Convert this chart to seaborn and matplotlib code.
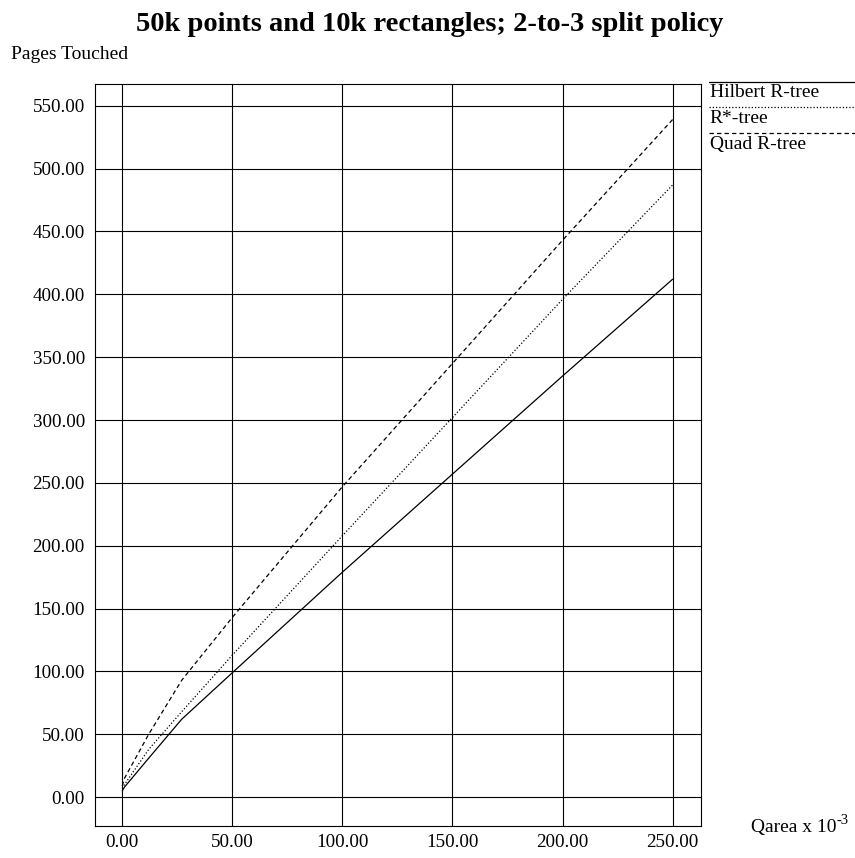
import pandas as pd
import matplotlib.pyplot as plt
import seaborn as sns
from matplotlib.lines import Line2D
from matplotlib.ticker import FormatStrFormatter

# query area (x 10^-3) and pages touched
qarea = [0, 1, 12, 27, 50, 100, 150, 200, 250]
hilbert = [5, 8, 31, 62, 99, 179, 257, 335, 412]
rstar = [7, 10, 38, 68, 113, 208, 302, 396, 487]
quad = [9, 15, 50, 93, 143, 247, 345, 443, 539]
names = ["Hilbert R-tree", "R*-tree", "Quad R-tree"]

xticks = [0, 50, 100, 150, 200, 250]
yticks = list(range(0, 551, 50))

rows = []
for name, vals in zip(names, [hilbert, rstar, quad]):
    for q, v in zip(qarea, vals):
        rows.append({"qarea": q, "pages": v, "tree": name})
df = pd.DataFrame(rows)

sns.set_style("white")
plt.rcParams['font.family'] = ['Liberation Serif', 'DejaVu Serif']
plt.rcParams['text.color'] = 'black'

styles = {"Hilbert R-tree": "", "R*-tree": (1, 1.6), "Quad R-tree": (3.5, 2.5)}

W, H = 855, 858
fig = plt.figure(figsize=(W / 100, H / 100), dpi=100)
ax = fig.add_axes([94.5 / W, 1 - 825.5 / H, (701 - 94.5) / W, (825.5 - 83.5) / H])

sns.lineplot(data=df, x="qarea", y="pages", style="tree", dashes=styles,
             color="black", linewidth=0.9, legend=False, ax=ax)

ax.set_xlim(-12.6, 262.9)
ax.set_ylim(-22.5, 567.7)
ax.set_xticks(xticks)
ax.set_yticks(yticks)
ax.xaxis.set_major_formatter(FormatStrFormatter("%.2f"))
ax.yaxis.set_major_formatter(FormatStrFormatter("%.2f"))
ax.tick_params(axis="both", length=0, labelsize=13.7, colors="black")
ax.tick_params(axis="y", pad=7)
ax.tick_params(axis="x", pad=6)
ax.grid(True, color="black", linewidth=0.8)
for s in ax.spines.values():
    s.set_color("black")
    s.set_linewidth(0.8)
ax.set_xlabel("")
ax.set_ylabel("")

fig.text(430 / W, 1 - 31 / H, "50k points and 10k rectangles; 2-to-3 split policy",
         ha="center", va="baseline", fontsize=20.5, fontweight="bold")
fig.text(11 / W, 1 - 59 / H, "Pages Touched", ha="left", va="baseline", fontsize=14)

# x axis label with a hand-made superscript
xl = fig.text(751 / W, 1 - 832 / H, "Qarea x 10", ha="left", va="baseline", fontsize=14)
ax.annotate("-3", xy=(1.0, 0.55), xycoords=xl, ha="left", va="bottom",
            fontsize=10.5, annotation_clip=False)

# legend: line drawn above each label
leg_y = [81.7, 107.3, 133.3]
for name, y in zip(names, leg_y):
    fig.add_artist(Line2D([709 / W, 1.0], [1 - y / H, 1 - y / H],
                          color="black", linewidth=0.9,
                          dashes=styles[name] if styles[name] else (None, None)))
    fig.text(709.5 / W, 1 - (y + 15.5) / H, name, ha="left", va="baseline", fontsize=14)

fig.savefig("out.png", dpi=100)
